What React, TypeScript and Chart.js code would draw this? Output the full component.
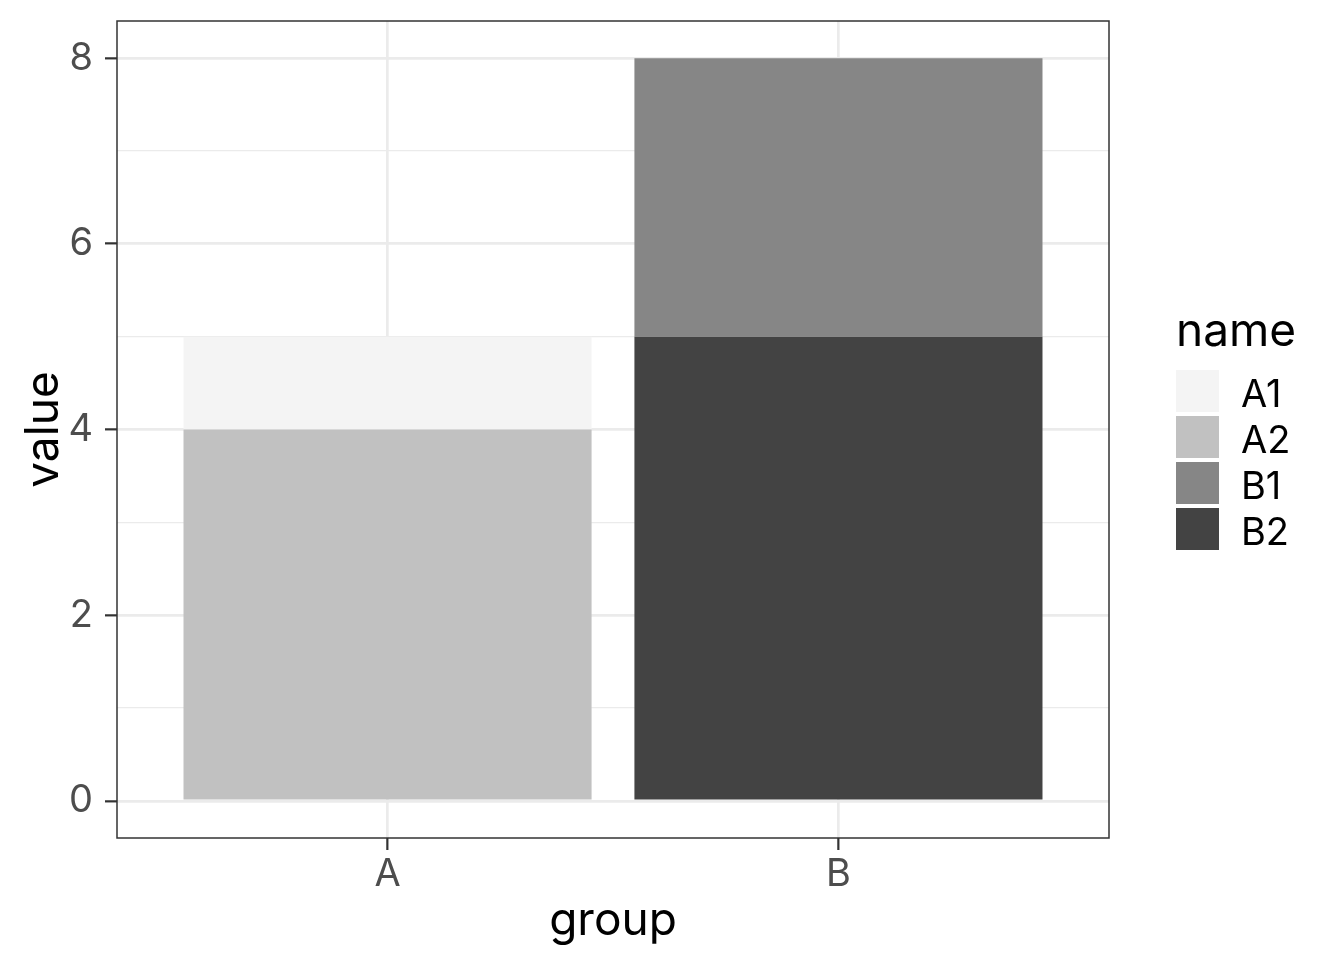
import React, { useEffect, useRef } from "react";
import { Chart, registerables } from "chart.js";

Chart.register(...registerables);

const categories = ["A", "B"];
const names = ["A1", "A2", "B1", "B2"];
const nameGroup = ["A", "A", "B", "B"];
const values = [1, 4, 3, 5];
const fills = ["#F4F4F4", "#C1C1C1", "#868686", "#434343"];
const yTicks = [0, 1, 2, 3, 4, 5, 6, 7, 8];
const yLabelTicks = [0, 2, 4, 6, 8];

const FONT = "Inter, 'Noto Sans', sans-serif";

export default function App() {
  const ref = useRef<HTMLCanvasElement | null>(null);

  useEffect(() => {
    const canvas = ref.current!;
    // ggplot stacks first level on top: draw datasets in reverse order (bottom first)
    const order = names.map((_, i) => i).reverse();
    const datasets = order.map((i) => ({
      label: names[i],
      data: [{ x: categories.indexOf(nameGroup[i]) + 1, y: values[i] }],
      backgroundColor: fills[i],
      borderWidth: 0,
      barPercentage: 0.905,
      categoryPercentage: 1,
    }));

    const decor = {
      id: "decor",
      afterDraw(chart: any) {
        const ctx = chart.ctx;
        const a = chart.chartArea;
        ctx.save();
        // panel border
        ctx.strokeStyle = "#333333";
        ctx.lineWidth = 1.5;
        ctx.strokeRect(a.left, a.top, a.right - a.left, a.bottom - a.top);
        // axis titles
        ctx.fillStyle = "#000000";
        ctx.font = `46px ${FONT}`;
        ctx.textAlign = "center";
        ctx.textBaseline = "alphabetic";
        ctx.fillText("group", (a.left + a.right) / 2, 935);
        ctx.save();
        ctx.translate(58, (a.top + a.bottom) / 2);
        ctx.rotate(-Math.PI / 2);
        ctx.fillText("value", 0, 0);
        ctx.restore();
        // legend
        ctx.textAlign = "left";
        ctx.fillText("name", 1176, 346);
        ctx.font = `38px ${FONT}`;
        names.forEach((n, i) => {
          const y = 370 + i * 46;
          ctx.fillStyle = fills[i];
          ctx.fillRect(1176, y, 43, 42);
          ctx.fillStyle = "#000000";
          ctx.fillText(n, 1241, y + 37);
        });
        ctx.restore();
      },
    };

    const chart = new Chart(canvas, {
      type: "bar",
      data: { datasets },
      options: {
        animation: false,
        responsive: false,
        devicePixelRatio: 1,
        parsing: false as any,
        layout: { padding: { top: 21, right: 235, left: 0, bottom: 0 } },
        plugins: { legend: { display: false }, tooltip: { enabled: false } },
        scales: {
          x: {
            type: "linear",
            stacked: true,
            min: 0.4,
            max: 2.6,
            offset: false,
            afterBuildTicks: (s: any) => {
              s.ticks = categories.map((_, i) => ({ value: i + 1 }));
            },
            afterFit: (s: any) => {
              s.height = 122;
              s.paddingLeft = 0;
              s.paddingRight = 0;
            },
            ticks: {
              callback: (v: any) => categories[Number(v) - 1] ?? "",
              color: "#4D4D4D",
              font: { family: FONT, size: 38 },
              padding: 2,
              maxRotation: 0,
              autoSkip: false,
            },
            grid: {
              offset: false,
              color: "#EBEBEB",
              lineWidth: 2.7,
              tickColor: "#333333",
              tickWidth: 2.2,
              tickLength: 12,
              drawTicks: true,
            },
            border: { display: false },
          },
          y: {
            type: "linear",
            stacked: true,
            min: -0.4,
            max: 8.4,
            afterBuildTicks: (s: any) => {
              s.ticks = yTicks.map((v) => ({ value: v }));
            },
            afterFit: (s: any) => {
              s.width = 117;
              s.paddingTop = 0;
              s.paddingBottom = 0;
            },
            ticks: {
              callback: (v: any) => (yLabelTicks.includes(Number(v)) ? String(v) : ""),
              color: "#4D4D4D",
              font: { family: FONT, size: 38 },
              padding: 12,
              autoSkip: false,
            },
            grid: {
              color: "#EBEBEB",
              lineWidth: (c: any) => (yLabelTicks.includes(c.tick?.value) ? 2.7 : 1.3),
              tickColor: (c: any) => (yLabelTicks.includes(c.tick?.value) ? "#333333" : "rgba(0,0,0,0)"),
              tickWidth: 2.2,
              tickLength: 12,
            },
            border: { display: false },
          },
        },
      },
      plugins: [decor],
    } as any);

    return () => chart.destroy();
  }, []);

  return (
    <div style={{ position: "absolute", left: 0, top: 0, width: 1344, height: 960, background: "#fff" }}>
      <canvas ref={ref} width={1344} height={960} style={{ width: 1344, height: 960, display: "block" }} />
    </div>
  );
}
